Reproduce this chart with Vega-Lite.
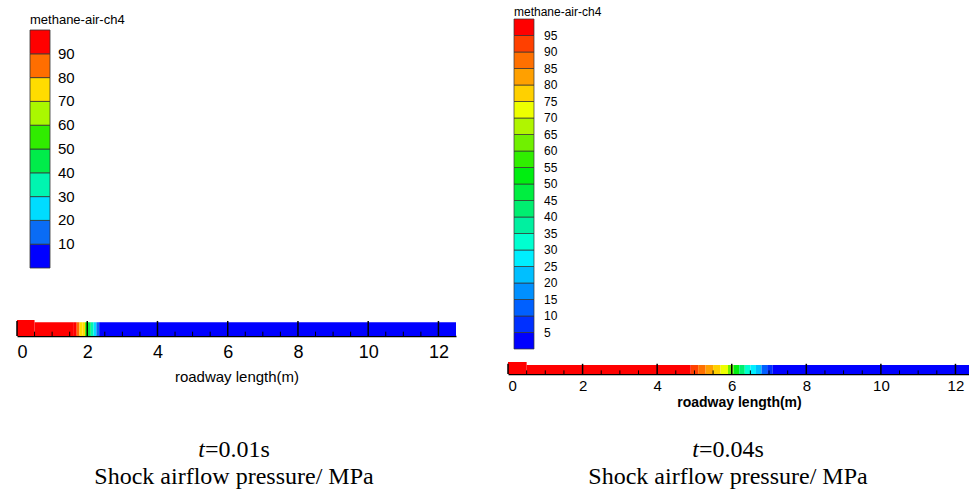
{
  "$schema": "https://vega.github.io/schema/vega-lite/v6.json",
  "background": "white",
  "padding": {"left": 16, "top": 1, "right": 0, "bottom": 0},
  "config": {"view": {"stroke": null}, "axis": {"grid": false}},
  "datasets": {
    "roadL": [
      {"x0": 0, "x1": 0.5, "ch4": 98},
      {"x0": 0.5, "x1": 1.62, "ch4": 98},
      {"x0": 1.62, "x1": 1.7, "ch4": 92},
      {"x0": 1.7, "x1": 1.78, "ch4": 86},
      {"x0": 1.78, "x1": 1.86, "ch4": 78},
      {"x0": 1.86, "x1": 1.94, "ch4": 70},
      {"x0": 1.94, "x1": 2.02, "ch4": 58},
      {"x0": 2.02, "x1": 2.1, "ch4": 48},
      {"x0": 2.1, "x1": 2.18, "ch4": 38},
      {"x0": 2.18, "x1": 2.26, "ch4": 28},
      {"x0": 2.26, "x1": 2.34, "ch4": 18},
      {"x0": 2.34, "x1": 2.42, "ch4": 9},
      {"x0": 2.42, "x1": 12.5, "ch4": 2}
    ],
    "roadR": [
      {"x0": 0, "x1": 0.5, "ch4": 98},
      {"x0": 0.5, "x1": 4.9, "ch4": 98},
      {"x0": 4.9, "x1": 5.1, "ch4": 93},
      {"x0": 5.1, "x1": 5.3, "ch4": 87},
      {"x0": 5.3, "x1": 5.5, "ch4": 81},
      {"x0": 5.5, "x1": 5.7, "ch4": 76},
      {"x0": 5.7, "x1": 5.9, "ch4": 70},
      {"x0": 5.9, "x1": 6.05, "ch4": 60},
      {"x0": 6.05, "x1": 6.2, "ch4": 50},
      {"x0": 6.2, "x1": 6.35, "ch4": 42},
      {"x0": 6.35, "x1": 6.5, "ch4": 34},
      {"x0": 6.5, "x1": 6.65, "ch4": 27},
      {"x0": 6.65, "x1": 6.8, "ch4": 20},
      {"x0": 6.8, "x1": 6.95, "ch4": 12},
      {"x0": 6.95, "x1": 7.1, "ch4": 6},
      {"x0": 7.1, "x1": 12.39, "ch4": 2}
    ],
    "ticks": [
      {"m": 0}, {"m": 0.5}, {"m": 1}, {"m": 1.5}, {"m": 2}, {"m": 2.5}, {"m": 3}, {"m": 3.5},
      {"m": 4}, {"m": 4.5}, {"m": 5}, {"m": 5.5}, {"m": 6}, {"m": 6.5}, {"m": 7}, {"m": 7.5},
      {"m": 8}, {"m": 8.5}, {"m": 9}, {"m": 9.5}, {"m": 10}, {"m": 10.5}, {"m": 11}, {"m": 11.5}, {"m": 12}
    ],
    "capL": [{"v": "t", "t": "=0.01s", "line2": "Shock airflow pressure/ MPa"}],
    "capR": [{"v": "t", "t": "=0.04s", "line2": "Shock airflow pressure/ MPa"}]
  },
  "resolve": {"scale": {"color": "independent"}},
  "columns": 2,
  "spacing": {"row": 0, "column": 51},
  "concat": [
    {
      "width": 439,
      "height": 335,
      "data": {"name": "roadL"},
      "layer": [
        {
          "transform": [{"filter": "datum.x0 < 0.5"}],
          "mark": {"type": "rect"},
          "encoding": {
            "x": {"field": "x0", "type": "quantitative", "scale": {"domain": [0, 12.5], "nice": false, "zero": false},
              "axis": {"values": [0, 2, 4, 6, 8, 10, 12], "format": "d", "labelFlush": true, "ticks": false, "domain": true, "domainColor": "black", "domainWidth": 1.5, "grid": false,
                "labelFont": "Liberation Sans", "labelFontSize": 18, "labelColor": "black", "labelPadding": 7,
                "title": "roadway length(m)", "titleFont": "Liberation Sans", "titleFontSize": 15, "titleFontWeight": "normal", "titleColor": "black", "titlePadding": 8}},
            "x2": {"field": "x1"},
            "y": {"datum": 0, "type": "quantitative", "scale": {"domain": [0, 20.9375], "nice": false}, "axis": null},
            "y2": {"datum": 1},
            "color": {"field": "ch4", "type": "quantitative",
              "scale": {"type": "threshold", "domain": [10, 20, 30, 40, 50, 60, 70, 80, 90],
                "range": ["#0000ff", "#0a6cf5", "#00dcff", "#00f5b0", "#00ec4a", "#30ec00", "#aaf800", "#ffdc00", "#ff6e00", "#ff0000"]},
              "legend": {"type": "gradient", "direction": "vertical", "orient": "top-left", "offset": 13, "padding": 0,
                "title": "methane-air-ch4", "titleFont": "Liberation Sans", "titleFontSize": 13, "titleFontWeight": "normal", "titleColor": "black", "titlePadding": 3,
                "gradientLength": 238, "gradientThickness": 20, "gradientStrokeColor": "#333333", "gradientStrokeWidth": 0.8,
                "labelFont": "Liberation Sans", "labelFontSize": 15, "labelColor": "black", "labelOffset": 8, "labelOverlap": false, "format": "d"}}
          }
        },
        {
          "transform": [{"filter": "datum.x0 >= 0.5"}],
          "mark": {"type": "rect"},
          "encoding": {
            "x": {"field": "x0", "type": "quantitative"},
            "x2": {"field": "x1"},
            "y": {"datum": 0, "type": "quantitative", "axis": null},
            "y2": {"datum": 0.86},
            "color": {"field": "ch4", "type": "quantitative",
              "scale": {"type": "threshold", "domain": [10, 20, 30, 40, 50, 60, 70, 80, 90],
                "range": ["#0000ff", "#0a6cf5", "#00dcff", "#00f5b0", "#00ec4a", "#30ec00", "#aaf800", "#ffdc00", "#ff6e00", "#ff0000"]},
              "legend": {"type": "gradient", "direction": "vertical", "orient": "top-left", "offset": 13, "padding": 0,
                "title": "methane-air-ch4", "titleFont": "Liberation Sans", "titleFontSize": 13, "titleFontWeight": "normal", "titleColor": "black", "titlePadding": 3,
                "gradientLength": 238, "gradientThickness": 20, "gradientStrokeColor": "#333333", "gradientStrokeWidth": 0.8,
                "labelFont": "Liberation Sans", "labelFontSize": 15, "labelColor": "black", "labelOffset": 8, "labelOverlap": false, "format": "d"}}
          }
        },
        {
          "data": {"name": "ticks"},
          "transform": [{"filter": "datum.m % 2 == 0"}],
          "mark": {"type": "rule", "color": "black", "strokeWidth": 1.5},
          "encoding": {
            "x": {"field": "m", "type": "quantitative"},
            "y": {"datum": 0, "type": "quantitative", "axis": null},
            "y2": {"datum": 0.94}
          }
        },
        {
          "data": {"name": "ticks"},
          "transform": [{"filter": "datum.m % 2 != 0"}],
          "mark": {"type": "rule", "color": "black", "strokeWidth": 1},
          "encoding": {
            "x": {"field": "m", "type": "quantitative"},
            "y": {"datum": 0, "type": "quantitative", "axis": null},
            "y2": {"datum": 0.27}
          }
        }
      ]
    },
    {
      "width": 462,
      "height": 373,
      "data": {"name": "roadR"},
      "layer": [
        {
          "transform": [{"filter": "datum.x0 < 0.5"}],
          "mark": {"type": "rect"},
          "encoding": {
            "x": {"field": "x0", "type": "quantitative", "scale": {"domain": [0, 12.39], "nice": false, "zero": false},
              "axis": {"values": [0, 2, 4, 6, 8, 10, 12], "format": "d", "labelFlush": true, "ticks": false, "domain": true, "domainColor": "black", "domainWidth": 1.5, "grid": false,
                "labelFont": "Liberation Sans", "labelFontSize": 15, "labelColor": "black", "labelPadding": 4,
                "title": "roadway length(m)", "titleFont": "Liberation Sans", "titleFontSize": 14, "titleFontWeight": "bold", "titleColor": "black", "titlePadding": 2}},
            "x2": {"field": "x1"},
            "y": {"datum": 0, "type": "quantitative", "scale": {"domain": [0, 31.083], "nice": false}, "axis": null},
            "y2": {"datum": 1},
            "color": {"field": "ch4", "type": "quantitative",
              "scale": {"type": "threshold", "domain": [5, 10, 15, 20, 25, 30, 35, 40, 45, 50, 55, 60, 65, 70, 75, 80, 85, 90, 95],
                "range": ["#0000ff", "#0030ff", "#0060ff", "#0090ff", "#00bfff", "#00efff", "#00ffd0", "#00f0a0", "#00ee70", "#00ee40", "#00ee10", "#30ee00", "#70f000", "#b0f500", "#eeff00", "#ffd000", "#ffa000", "#ff7000", "#ff4000", "#ff0000"]},
              "legend": {"type": "gradient", "direction": "vertical", "orient": "top-left", "offset": 6, "padding": 0,
                "title": "methane-air-ch4", "titleFont": "Liberation Sans", "titleFontSize": 12, "titleFontWeight": "normal", "titleColor": "black", "titlePadding": 0,
                "gradientLength": 330, "gradientThickness": 20, "gradientStrokeColor": "#333333", "gradientStrokeWidth": 0.7,
                "labelFont": "Liberation Sans", "labelFontSize": 12, "labelColor": "black", "labelOffset": 10, "labelOverlap": false, "format": "d"}}
          }
        },
        {
          "transform": [{"filter": "datum.x0 >= 0.5"}],
          "mark": {"type": "rect"},
          "encoding": {
            "x": {"field": "x0", "type": "quantitative"},
            "x2": {"field": "x1"},
            "y": {"datum": 0, "type": "quantitative", "axis": null},
            "y2": {"datum": 0.75},
            "color": {"field": "ch4", "type": "quantitative",
              "scale": {"type": "threshold", "domain": [5, 10, 15, 20, 25, 30, 35, 40, 45, 50, 55, 60, 65, 70, 75, 80, 85, 90, 95],
                "range": ["#0000ff", "#0030ff", "#0060ff", "#0090ff", "#00bfff", "#00efff", "#00ffd0", "#00f0a0", "#00ee70", "#00ee40", "#00ee10", "#30ee00", "#70f000", "#b0f500", "#eeff00", "#ffd000", "#ffa000", "#ff7000", "#ff4000", "#ff0000"]},
              "legend": {"type": "gradient", "direction": "vertical", "orient": "top-left", "offset": 6, "padding": 0,
                "title": "methane-air-ch4", "titleFont": "Liberation Sans", "titleFontSize": 12, "titleFontWeight": "normal", "titleColor": "black", "titlePadding": 0,
                "gradientLength": 330, "gradientThickness": 20, "gradientStrokeColor": "#333333", "gradientStrokeWidth": 0.7,
                "labelFont": "Liberation Sans", "labelFontSize": 12, "labelColor": "black", "labelOffset": 10, "labelOverlap": false, "format": "d"}}
          }
        },
        {
          "data": {"name": "ticks"},
          "transform": [{"filter": "datum.m % 2 == 0"}],
          "mark": {"type": "rule", "color": "black", "strokeWidth": 1.5},
          "encoding": {
            "x": {"field": "m", "type": "quantitative"},
            "y": {"datum": 0, "type": "quantitative", "axis": null},
            "y2": {"datum": 0.85}
          }
        },
        {
          "data": {"name": "ticks"},
          "transform": [{"filter": "datum.m % 2 != 0"}],
          "mark": {"type": "rule", "color": "black", "strokeWidth": 1},
          "encoding": {
            "x": {"field": "m", "type": "quantitative"},
            "y": {"datum": 0, "type": "quantitative", "axis": null},
            "y2": {"datum": 0.3}
          }
        }
      ]
    },
    {
      "width": 434,
      "height": 40,
      "data": {"name": "capL"},
      "encoding": {
        "x": {"datum": 0.5, "type": "quantitative", "scale": {"domain": [0, 1], "nice": false}, "axis": null},
        "y": {"datum": 0.5, "type": "quantitative", "scale": {"domain": [0, 1], "nice": false}, "axis": null}
      },
      "layer": [
        {"mark": {"type": "text", "font": "Liberation Serif", "fontSize": 24, "fontStyle": "italic", "align": "right", "baseline": "alphabetic", "dx": -29, "dy": 28, "color": "black"},
         "encoding": {"text": {"field": "v"}}},
        {"mark": {"type": "text", "font": "Liberation Serif", "fontSize": 24, "align": "left", "baseline": "alphabetic", "dx": -29, "dy": 28, "color": "black"},
         "encoding": {"text": {"field": "t"}}},
        {"mark": {"type": "text", "font": "Liberation Serif", "fontSize": 24, "align": "center", "baseline": "alphabetic", "dy": 55, "color": "black"},
         "encoding": {"text": {"field": "line2"}}}
      ]
    },
    {
      "width": 440,
      "height": 40,
      "data": {"name": "capR"},
      "encoding": {
        "x": {"datum": 0.5, "type": "quantitative", "scale": {"domain": [0, 1], "nice": false}, "axis": null},
        "y": {"datum": 0.5, "type": "quantitative", "scale": {"domain": [0, 1], "nice": false}, "axis": null}
      },
      "layer": [
        {"mark": {"type": "text", "font": "Liberation Serif", "fontSize": 24, "fontStyle": "italic", "align": "right", "baseline": "alphabetic", "dx": -29, "dy": 28, "color": "black"},
         "encoding": {"text": {"field": "v"}}},
        {"mark": {"type": "text", "font": "Liberation Serif", "fontSize": 24, "align": "left", "baseline": "alphabetic", "dx": -29, "dy": 28, "color": "black"},
         "encoding": {"text": {"field": "t"}}},
        {"mark": {"type": "text", "font": "Liberation Serif", "fontSize": 24, "align": "center", "baseline": "alphabetic", "dy": 55, "color": "black"},
         "encoding": {"text": {"field": "line2"}}}
      ]
    }
  ]
}
